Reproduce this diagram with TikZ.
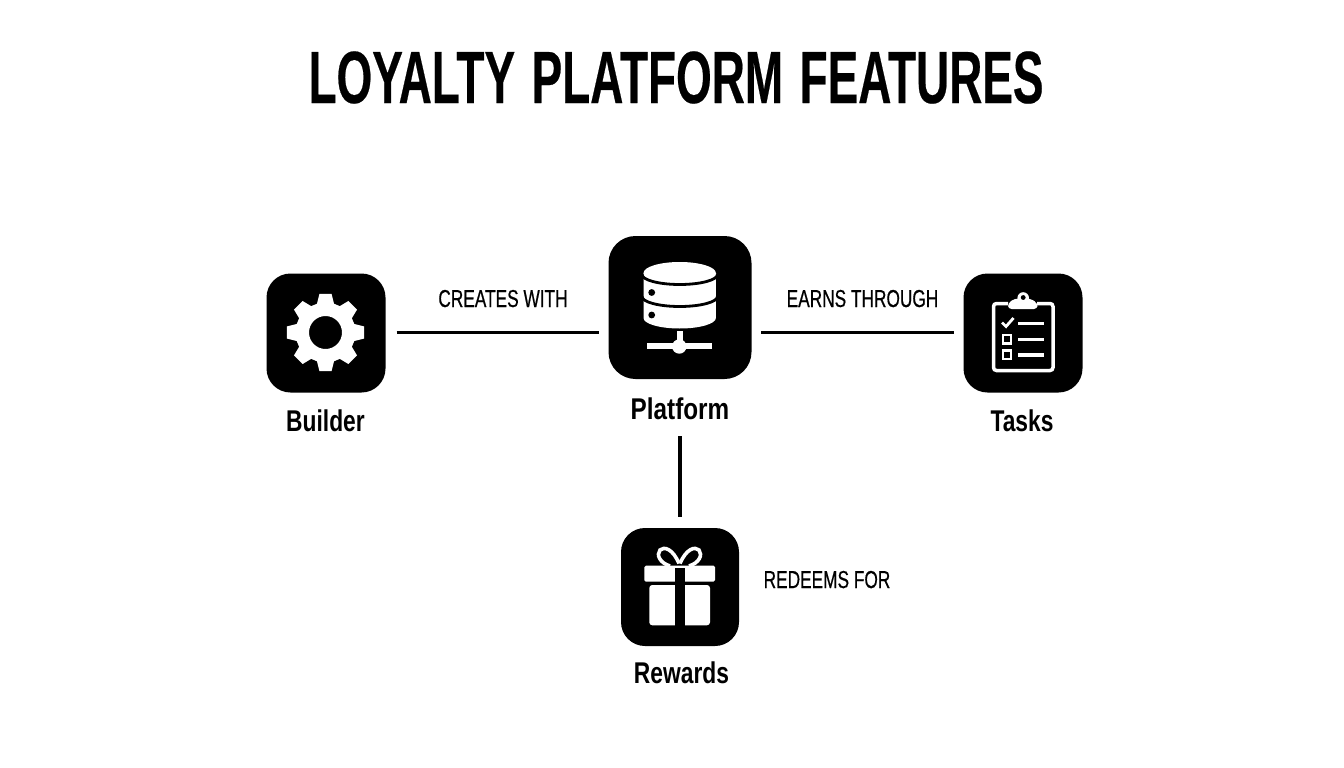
\documentclass[tikz,border=0pt]{standalone}
\usepackage{fontspec}
\setmainfont{Liberation Sans}
\newfontfamily\titlefont[FakeStretch=0.62,WordSpace=1.3,FakeBold=0.3]{Liberation Sans Bold}
\newfontfamily\namefont[FakeStretch=0.76]{Liberation Sans Bold}
\newfontfamily\namefontwide[FakeStretch=0.81]{Liberation Sans Bold}
\newfontfamily\edgefont[FakeStretch=0.705,FakeBold=0.5]{Liberation Sans}
\definecolor{ink}{HTML}{000000}
\tikzset{
  tile/.style={fill=ink,rounded corners=24pt,inner sep=0pt,minimum width=#1,minimum height=#1},
  conn/.style={draw=ink,line width=3.2pt},
  nameT/.style={font=\namefont\fontsize{30}{30}\selectfont,text=ink,inner sep=0pt,anchor=base},
  edgeT/.style={font=\edgefont\fontsize{24.5}{25}\selectfont,text=ink,inner sep=0pt,anchor=base},
  wl/.style={draw=white,line width=3.5pt},
  band/.style={draw=ink,line width=2.8pt},
}
\begin{document}
\begin{tikzpicture}[x=1pt,y=-1pt]
\useasboundingbox (0,0) rectangle (1344,768);
\fill[white] (0,0) rectangle (1344,768);
\node[font=\titlefont\fontsize{74}{74}\selectfont,text=ink,inner sep=0pt,anchor=base] (title) at (676,103) {LOYALTY PLATFORM FEATURES};
\node[tile=119pt] (builder) at (326,333) {};
\node[tile=143pt,rounded corners=27pt] (platform) at (680,307.5) {};
\node[tile=119pt] (tasks) at (1023,333) {};
\node[tile=118pt] (rewards) at (680,587) {};
\node[nameT] (builderL) at (325.5,431) {Builder};
\node[nameT,font=\namefontwide\fontsize{30}{30}\selectfont] (platformL) at (680,419) {Platform};
\node[nameT] (tasksL) at (1022,431) {Tasks};
\node[nameT] (rewardsL) at (681.5,683) {Rewards};
\node[edgeT] (e1) at (503,307) {CREATES WITH};
\node[edgeT] (e2) at (862.5,307) {EARNS THROUGH};
\node[edgeT] (e3) at (827,588) {REDEEMS FOR};
\coordinate (vtop) at (680,436);
\coordinate (pl) at (608.5,332.5);
\coordinate (pr) at (751.5,332.5);
\coordinate (bl) at (385.5,332.5);
\coordinate (tl) at (963.5,332.5);
\draw[conn,shorten <=11pt,shorten >=9.5pt] (bl) -- (pl);
\draw[conn,shorten <=9.5pt,shorten >=9.5pt] (pr) -- (tl);
\draw[conn,shorten >=11pt] (vtop) -- (rewards.north);
% gear
\begin{scope}[shift={(325.5,332.5)}]
\fill[white,even odd rule] (-16.5:30)
 \foreach \a in {0,45,...,315}{
   -- (\a-16.5:30) -- (\a-9:39) -- (\a+9:39) -- (\a+16.5:30)
 } -- cycle (0,0) circle (16.5);
\end{scope}
% database
\fill[white] (643.5,273) -- (643.5,318) arc[start angle=180,end angle=0,x radius=36.2,y radius=10.5] -- (716,273) -- cycle;
\fill[white] (679.7,273) ellipse[x radius=36.2,y radius=11];
\draw[band] (642,274.5) arc[start angle=180,end angle=0,x radius=37.7,y radius=10];
\draw[band] (642,296.5) arc[start angle=180,end angle=0,x radius=37.7,y radius=10];
\fill[ink] (651.7,292.5) circle (3.4) (651.7,315) circle (3.4);
\fill[white] (677.2,331) rectangle (682.6,346);
\fill[white] (646.7,343.3) rectangle (712.3,349.2);
\fill[white] (679.3,346.5) circle (7.2);
% clipboard
\draw[wl,rounded corners=3pt] (1008,303.5) -- (993.5,303.5) -- (993.5,370.5) -- (1053,370.5) -- (1053,303.5) -- (1037,303.5);
\fill[white,rounded corners=3.5pt] (1008,309) -- (1008,303) -- (1015,298.5) -- (1030,298.5) -- (1037.5,303) -- (1037.5,309) -- cycle;
\fill[white] (1023.2,298) circle (5.8);
\fill[ink] (1023.2,297.5) circle (2.4);
\draw[white,line width=2.8pt] (1002,322.5) -- (1006,326.5) -- (1013.5,318);
\draw[wl] (1018,323.5) -- (1044,323.5) (1018,339.3) -- (1044,339.3) (1018,355) -- (1044,355);
\draw[white,line width=2.8pt] (1003,335) rectangle (1011,343.5) (1003,350.5) rectangle (1011,359);
% gift
\fill[white,rounded corners=1.5pt] (644.3,565.7) rectangle (715,581.7);
\fill[white,rounded corners=3pt] (649.3,585) rectangle (710,625.3);
\fill[ink] (674.5,568) rectangle (685,626);
\draw[white,line width=3.6pt] (679,563.5) .. controls (673,549) and (664,546) .. (660,550) .. controls (656,555) and (660,563) .. (670,566);
\draw[white,line width=3.6pt] (680,563.5) .. controls (686,549) and (695,546) .. (699,550) .. controls (703,555) and (699,563) .. (689,566);
\end{tikzpicture}
\end{document}
